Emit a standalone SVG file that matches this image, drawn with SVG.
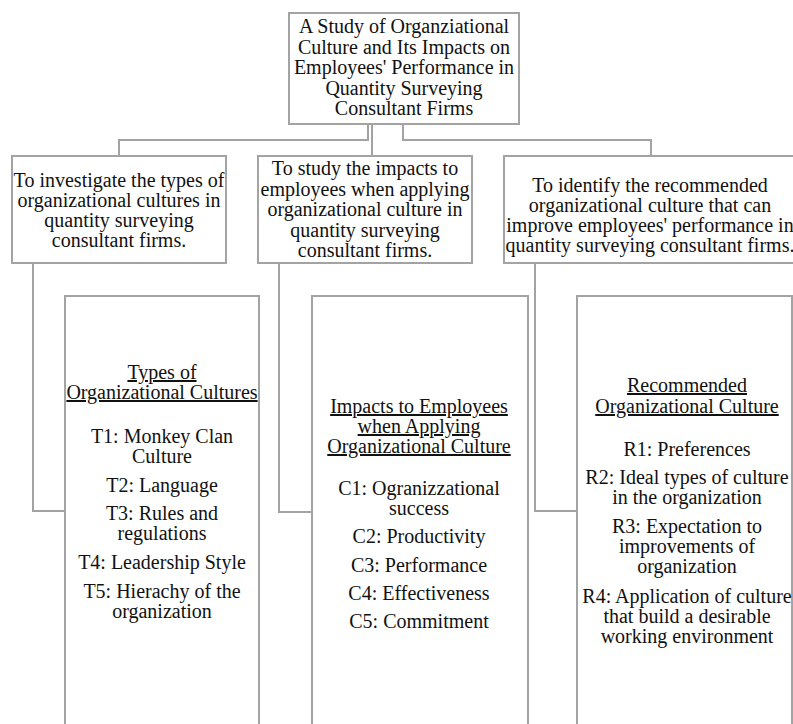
<svg xmlns="http://www.w3.org/2000/svg" width="793" height="724" viewBox="0 0 793 724">
<style>
.box{fill:#fff;stroke:#a3a3a3;stroke-width:2}
.con{fill:none;stroke:#a3a3a3;stroke-width:2}
text{font-family:"Liberation Serif","Times New Roman",serif;font-size:20px;fill:#111;text-anchor:middle}
.u{text-decoration:underline}
</style>
<rect width="793" height="724" fill="#fff"/>
<g id="connectors">
<path class="con" d="M368 124V140H119V156"/>
<path class="con" d="M372 124V156"/>
<path class="con" d="M403 124V140H651V156"/>
<path class="con" d="M33 263V511H65"/>
<path class="con" d="M279 263V512H312"/>
<path class="con" d="M535 263V511H577"/>
</g>
<g id="title">
<rect class="box" x="289" y="13" width="230" height="111"/>
<text x="404" y="33">A Study of Organziational</text>
<text x="404" y="53.5">Culture and Its Impacts on</text>
<text x="404" y="74">Employees' Performance in</text>
<text x="404" y="94.5">Quantity Surveying</text>
<text x="404" y="115">Consultant Firms</text>
</g>
<g id="obj1">
<rect class="box" x="12" y="156" width="214" height="107"/>
<text x="119" y="187">To investigate the types of</text>
<text x="119" y="207">organizational cultures in</text>
<text x="119" y="227">quantity surveying</text>
<text x="119" y="247">consultant firms.</text>
</g>
<g id="obj2">
<rect class="box" x="258" y="156" width="214" height="107"/>
<text x="365" y="175">To study the impacts to</text>
<text x="365" y="195.5">employees when applying</text>
<text x="365" y="216">organizational culture in</text>
<text x="365" y="236.5">quantity surveying</text>
<text x="365" y="257">consultant firms.</text>
</g>
<g id="obj3">
<rect class="box" x="504" y="156" width="300" height="107"/>
<text x="650" y="192">To identify the recommended</text>
<text x="650" y="212">organizational culture that can</text>
<text x="650" y="232">improve employees' performance in</text>
<text x="650" y="252">quantity surveying consultant firms.</text>
</g>
<g id="types">
<rect class="box" x="65" y="296" width="194" height="450"/>
<text class="u" x="162" y="379">Types of</text>
<text class="u" x="162" y="399">Organizational Cultures</text>
<text x="162" y="443">T1: Monkey Clan</text>
<text x="162" y="463">Culture</text>
<text x="162" y="491.5">T2: Language</text>
<text x="162" y="520">T3: Rules and</text>
<text x="162" y="540">regulations</text>
<text x="162" y="569">T4: Leadership Style</text>
<text x="162" y="598">T5: Hierachy of the</text>
<text x="162" y="618">organization</text>
</g>
<g id="impacts">
<rect class="box" x="312" y="296" width="216" height="450"/>
<text class="u" x="419" y="413">Impacts to Employees</text>
<text class="u" x="419" y="433">when Applying</text>
<text class="u" x="419" y="453">Organizational Culture</text>
<text x="419" y="495">C1: Ogranizzational</text>
<text x="419" y="515">success</text>
<text x="419" y="543">C2: Productivity</text>
<text x="419" y="572">C3: Performance</text>
<text x="419" y="600">C4: Effectiveness</text>
<text x="419" y="628">C5: Commitment</text>
</g>
<g id="recommended">
<rect class="box" x="577" y="296" width="215" height="450"/>
<text class="u" x="687" y="392">Recommended</text>
<text class="u" x="687" y="413">Organizational Culture</text>
<text x="687" y="456">R1: Preferences</text>
<text x="687" y="483.5">R2: Ideal types of culture</text>
<text x="687" y="503.5">in the organization</text>
<text x="687" y="533">R3: Expectation to</text>
<text x="687" y="553">improvements of</text>
<text x="687" y="573">organization</text>
<text x="687" y="603">R4: Application of culture</text>
<text x="687" y="623">that build a desirable</text>
<text x="687" y="643">working environment</text>
</g>
</svg>
